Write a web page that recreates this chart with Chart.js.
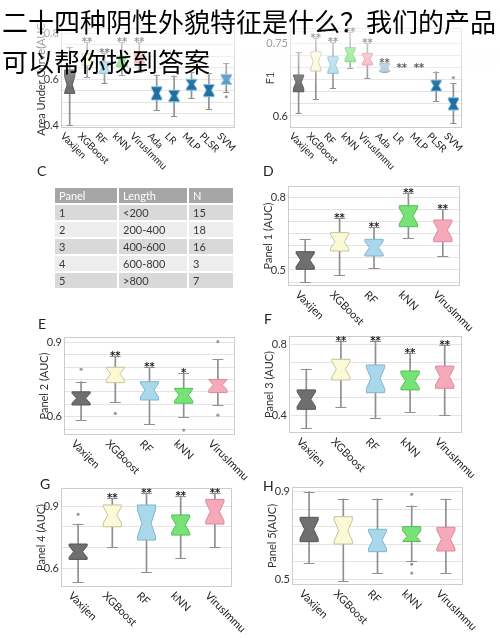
<!DOCTYPE html>
<html><head><meta charset="utf-8">
<script src="https://cdn.jsdelivr.net/npm/chart.js@4.4.1/dist/chart.umd.min.js"></script>
<style>
html,body{margin:0;padding:0;background:#fff;}
#page{position:relative;width:500px;height:638px;overflow:hidden;background:#fff;font-family:Lato,'Liberation Sans',sans-serif;}
#page canvas{position:absolute;}
.lt{position:absolute;font-size:14px;line-height:14px;color:#222;font-family:Lato,sans-serif;}
#tbl{position:absolute;left:53px;top:186px;border-collapse:separate;border-spacing:2px;font:11px Lato,sans-serif;color:#3a3a3a;}
#tbl td{height:15px;padding:0 0 0 4px;line-height:15px;}
#tbl tr.h td{background:#a6a6a6;color:#fff;}
#tbl tr.o td{background:#d9d9d9;}
#tbl tr.e td{background:#ededed;}
#fade{position:absolute;left:0;top:0;width:500px;height:90px;pointer-events:none;
 background:linear-gradient(to bottom,rgba(255,255,255,0.75) 0px,rgba(255,255,255,0.6) 35px,rgba(255,255,255,0.35) 58px,rgba(255,255,255,0) 88px);}
#ttl{position:absolute;left:2px;top:1px;font-family:'Noto Sans CJK SC',sans-serif;font-size:26px;line-height:40px;color:#000;white-space:nowrap;}
</style></head>
<body><div id="page">
<div class="lt" style="left:37px;top:164px">C</div>
<div class="lt" style="left:263px;top:164px">D</div>
<div class="lt" style="left:38px;top:317px">E</div>
<div class="lt" style="left:264px;top:312px">F</div>
<div class="lt" style="left:40px;top:477px">G</div>
<div class="lt" style="left:263px;top:479px">H</div>
<table id="tbl"></table>
<div id="fade"></div>
<div id="ttl">二十四种阴性外貌特征是什么？我们的产品<br>可以帮你找到答案</div>
</div>
<script>
// ---------- categories ----------
const cats10 = ['Vaxijen','XGBoost','RF','kNN','VirusImmu','Ada','LR','MLP','PLSR','SVM'];
const cats5  = ['Vaxijen','XGBoost','RF','kNN','VirusImmu'];

// ---------- Panel A: Area Under Curve (AUC) ----------
const aucLo  = [0.402,0.610,0.582,0.618,0.632,0.465,0.440,0.519,0.469,0.545];
const aucQ1  = [0.538,0.660,0.625,0.655,0.670,0.509,0.501,0.552,0.523,0.577];
const aucMed = [0.575,0.690,0.650,0.680,0.690,0.538,0.527,0.577,0.552,0.596];
const aucQ3  = [0.640,0.710,0.675,0.700,0.712,0.567,0.552,0.600,0.577,0.621];
const aucHi  = [0.740,0.760,0.715,0.760,0.760,0.618,0.615,0.632,0.625,0.669];
const aucStars = ['','**','**','**','**','','','','',''];
const aucOut = [['SVM',0.523]];
const aucTickLabels = [0.4,0.6,0.8];
const aucRange = [0.387,0.823];

// ---------- Panel B: F1 ----------
const f1Lo  = [0.6055,0.635,0.6583,0.6996,0.679,0.691,0.700,0.700,0.6309,0.5848];
const f1Q1  = [0.650,0.6928,0.688,0.712,0.7052,0.6914,0.700,0.700,0.6515,0.6123];
const f1Med = [0.6695,0.712,0.705,0.7273,0.7176,0.6996,0.700,0.700,0.6625,0.6241];
const f1Q3  = [0.6846,0.7327,0.7223,0.741,0.7294,0.7087,0.700,0.700,0.6743,0.6377];
const f1Hi  = [0.7314,0.7616,0.752,0.7727,0.750,0.7087,0.700,0.700,0.6914,0.6674];
const f1Stars = ['','**','**','**','**','**','**','**','',''];
const f1Out = [['SVM',0.679]];
const f1TickLabels = [0.6,0.75];
const f1Range = [0.5752,0.7816];

// ---------- Panel D: Panel 1 (AUC) ----------
const p1Lo  = [0.4515,0.4793,0.5071,0.634,0.5581];
const p1Q1  = [0.5029,0.5788,0.5581,0.6797,0.6174];
const p1Med = [0.5415,0.6175,0.5926,0.7241,0.666];
const p1Q3  = [0.576,0.6548,0.6274,0.7668,0.7075];
const p1Hi  = [0.6274,0.7145,0.6772,0.8207,0.7519];
const p1Stars = ['','**','**','**','**'];
const p1Out = [];
const p1TickLabels = [0.5,0.8];
const p1Range = [0.4336,0.8485];

// ---------- Panel E: Panel 2 (AUC) ----------
const p2Lo  = [0.586,0.660,0.570,0.600,0.647];
const p2Q1  = [0.647,0.737,0.667,0.654,0.697];
const p2Med = [0.674,0.772,0.707,0.687,0.728];
const p2Q3  = [0.700,0.799,0.741,0.714,0.750];
const p2Hi  = [0.741,0.845,0.799,0.775,0.831];
const p2Stars = ['','**','**','*',''];
const p2Out = [['Vaxijen',0.791],['XGBoost',0.613],['kNN',0.546],['VirusImmu',0.902],['VirusImmu',0.606]];
const p2TickLabels = [0.6,0.9];
const p2Range = [0.526,0.921];

// ---------- Panel F: Panel 3 (AUC) ----------
const p3Lo  = [0.327,0.449,0.383,0.421,0.402];
const p3Q1  = [0.434,0.600,0.528,0.544,0.553];
const p3Med = [0.491,0.661,0.610,0.596,0.619];
const p3Q3  = [0.544,0.717,0.685,0.651,0.679];
const p3Hi  = [0.661,0.823,0.823,0.755,0.798];
const p3Stars = ['','**','**','**','**'];
const p3Out = [];
const p3TickLabels = [0.4,0.8];
const p3Range = [0.2997,0.8493];

// ---------- Panel G: Panel 4 (AUC) ----------
const p4Lo  = [0.536,0.704,0.584,0.648,0.704];
const p4Q1  = [0.643,0.800,0.736,0.760,0.813];
const p4Med = [0.680,0.857,0.817,0.809,0.873];
const p4Q3  = [0.717,0.905,0.905,0.857,0.932];
const p4Hi  = [0.813,0.937,0.964,0.948,0.964];
const p4Stars = ['','**','**','**','**'];
const p4Out = [['Vaxijen',0.86]];
const p4TickLabels = [0.6,0.9];
const p4Range = [0.51,0.9867];

// ---------- Panel H: Panel 5 (AUC) ----------
const p5Lo  = [0.5748,0.4923,0.5262,0.583,0.5262];
const p5Q1  = [0.671,0.6604,0.6252,0.672,0.6283];
const p5Med = [0.7278,0.7214,0.6788,0.695,0.6819];
const p5Q3  = [0.7827,0.7855,0.7278,0.740,0.7369];
const p5Hi  = [0.900,0.8666,0.8666,0.835,0.8666];
const p5Stars = ['','','','',''];
const p5Out = [['kNN',0.888],['kNN',0.568],['kNN',0.527]];
const p5TickLabels = [0.5,0.9];
const p5Range = [0.4726,0.9215];

// ---------- Table C ----------
const tblHeader = ['Panel','Length','N'];
const tblPanel  = ['1','2','3','4','5'];
const tblLength = ['<200','200-400','400-600','600-800','>800'];
const tblN      = ['15','18','16','3','7'];

// ---------- styles ----------
const FILL = {Vaxijen:'#6f6f6f', XGBoost:'#fcfad4', RF:'#a9d7eb', kNN:'#77e377', VirusImmu:'#f6a9b8',
  Ada:'#1f6fa0', LR:'#1f6fa0', MLP:'#1f6fa0', PLSR:'#1f6fa0', SVM:'#1f6fa0'};
const EDGE = {Vaxijen:'#565656', XGBoost:'#c4c2a2', RF:'#82b5cd', kNN:'#4fc04f', VirusImmu:'#d88c9b',
  Ada:'#8cc4e4', LR:'#8cc4e4', MLP:'#8cc4e4', PLSR:'#8cc4e4', SVM:'#8cc4e4'};

// table
(function(){
  const t = document.getElementById('tbl');
  const widths = [58,64,40];
  let h = '<tr class="h">' + tblHeader.map((s,i)=>'<td style="width:'+widths[i]+'px">'+s+'</td>').join('') + '</tr>';
  tblPanel.forEach((p,i)=>{
    h += '<tr class="'+(i%2===0?'o':'e')+'"><td>'+p+'</td><td>'+tblLength[i].replace('<','&lt;').replace('>','&gt;')+'</td><td>'+tblN[i]+'</td></tr>';
  });
  t.innerHTML = h;
})();

const boxPlugin = {
  id:'boxplot',
  beforeDatasetsDraw(chart){
    const {ctx, chartArea:a} = chart;
    ctx.save(); ctx.strokeStyle='#cdcdcd'; ctx.lineWidth=1;
    ctx.strokeRect(Math.round(a.left)+0.5, Math.round(a.top)+0.5, Math.round(a.right-a.left)-1, Math.round(a.bottom-a.top)-1);
    ctx.restore();
  },
  afterDatasetsDraw(chart){
    const ctx = chart.ctx, ys = chart.scales.y;
    const bx = chart.data.datasets[1];
    const bMeta = chart.getDatasetMeta(1), wMeta = chart.getDatasetMeta(0);
    ctx.save();
    bMeta.data.forEach((el,i)=>{
      const cx = el.x, hw = el.width/2;
      const w = wMeta.data[i];
      const wt = Math.min(w.y, w.base), wb = Math.max(w.y, w.base);
      ctx.lineWidth = 1;
      if (wb - wt > 0.5) {
        ctx.strokeStyle = '#8f8f8f';
        const chw = hw*0.6;
        ctx.beginPath();
        [wt,wb].forEach(yy=>{ const p = Math.round(yy)+0.5; ctx.moveTo(cx-chw,p); ctx.lineTo(cx+chw,p); });
        ctx.stroke();
      }
      const top = Math.min(el.y, el.base), bot = Math.max(el.y, el.base);
      if (bot - top > 0.5) {
        const m = ys.getPixelForValue(bx.medians[i]);
        const iqr = bot - top;
        const nT = Math.max(top, m - 0.38*iqr), nB = Math.min(bot, m + 0.38*iqr);
        const nw = hw*0.5;
        ctx.beginPath();
        ctx.moveTo(cx-hw, top); ctx.lineTo(cx+hw, top); ctx.lineTo(cx+hw, nT);
        ctx.lineTo(cx+nw, m); ctx.lineTo(cx+hw, nB); ctx.lineTo(cx+hw, bot);
        ctx.lineTo(cx-hw, bot); ctx.lineTo(cx-hw, nB); ctx.lineTo(cx-nw, m);
        ctx.lineTo(cx-hw, nT); ctx.closePath();
        ctx.fillStyle = bx.fills[i]; ctx.fill();
        ctx.strokeStyle = bx.edges[i]; ctx.stroke();
      }
      if (bx.stars[i]) {
        ctx.fillStyle = '#222'; ctx.font = 'bold 10px "DejaVu Sans"';
        ctx.textAlign = 'center'; ctx.textBaseline = 'alphabetic';
        ctx.fillText(bx.stars[i], cx, wt + 3);
      }
    });
    ctx.restore();
  },
  afterDraw(chart, args, opts){
    const ctx = chart.ctx, xs = chart.scales.x, a = chart.chartArea;
    ctx.save();
    ctx.font = opts.labelSize + 'px Lato'; ctx.fillStyle = '#222';
    chart.data.labels.forEach((t,i)=>{
      const px = xs.getPixelForValue(i);
      ctx.save(); ctx.translate(px-4, a.bottom+3); ctx.rotate(Math.PI/4);
      ctx.textAlign='left'; ctx.textBaseline='top'; ctx.fillText(t,0,0); ctx.restore();
    });
    ctx.restore();
  }
};

const PANELS = [
 {cats:cats10, lo:aucLo, q1:aucQ1, med:aucMed, q3:aucQ3, hi:aucHi, stars:aucStars, out:aucOut, labels:aucTickLabels, range:aucRange, step:0.05, title:'Area Under Curve(AUC)', area:{l:61,t:28,r:235,b:128}, fs:10, pct:0.6, key:'A'},
 {cats:cats10, lo:f1Lo, q1:f1Q1, med:f1Med, q3:f1Q3, hi:f1Hi, stars:f1Stars, out:f1Out, labels:f1TickLabels, range:f1Range, step:0.025, title:'F1', area:{l:290,t:28,r:462,b:128}, fs:10, pct:0.6, key:'B'},
 {cats:cats5, lo:p1Lo, q1:p1Q1, med:p1Med, q3:p1Q3, hi:p1Hi, stars:p1Stars, out:p1Out, labels:p1TickLabels, range:p1Range, step:0.05, title:'Panel 1 (AUC)', area:{l:288,t:186,r:460,b:286}, fs:11, pct:0.53, key:'D'},
 {cats:cats5, lo:p2Lo, q1:p2Q1, med:p2Med, q3:p2Q3, hi:p2Hi, stars:p2Stars, out:p2Out, labels:p2TickLabels, range:p2Range, step:0.05, title:'Panel 2 (AUC)', area:{l:64,t:337,r:235,b:435}, fs:11, pct:0.53, key:'E'},
 {cats:cats5, lo:p3Lo, q1:p3Q1, med:p3Med, q3:p3Q3, hi:p3Hi, stars:p3Stars, out:p3Out, labels:p3TickLabels, range:p3Range, step:0.1, title:'Panel 3 (AUC)', area:{l:289,t:336,r:462,b:433}, fs:11, pct:0.53, key:'F'},
 {cats:cats5, lo:p4Lo, q1:p4Q1, med:p4Med, q3:p4Q3, hi:p4Hi, stars:p4Stars, out:p4Out, labels:p4TickLabels, range:p4Range, step:0.1, title:'Panel 4 (AUC)', area:{l:61,t:488,r:232,b:587}, fs:11, pct:0.53, key:'G'},
 {cats:cats5, lo:p5Lo, q1:p5Q1, med:p5Med, q3:p5Q3, hi:p5Hi, stars:p5Stars, out:p5Out, labels:p5TickLabels, range:p5Range, step:0.08, title:'Panel 5(AUC)', area:{l:292,t:487,r:463,b:585}, fs:11, pct:0.53, key:'H'}
];

const page = document.getElementById('page');
const PADL=8, YW=26, PADT=14, PADR=50, PADB=70;

PANELS.forEach(p=>{
  const a = p.area;
  const cv = document.createElement('canvas');
  const W = (a.r-a.l)+PADL+YW+PADR, H = (a.b-a.t)+PADT+PADB;
  cv.width = W; cv.height = H;
  cv.style.left = (a.l-PADL-YW)+'px'; cv.style.top = (a.t-PADT)+'px';
  cv.style.width = W+'px'; cv.style.height = H+'px';
  page.insertBefore(cv, page.firstChild);

  const fills = p.cats.map(c=>{
    if (p.key==='B' && (c==='Ada'||c==='LR'||c==='MLP')) return '#a9c5dc';
    if (p.key==='A' && c==='SVM') return '#4f97c6';
    return FILL[c];
  });
  const edges = p.cats.map(c=>{
    if (p.key==='B' && (c==='Ada'||c==='LR'||c==='MLP')) return '#8fb1cb';
    return EDGE[c];
  });
  const anchor = p.labels[0];
  const gridVals = [];
  for (let k=-60;k<=60;k++){ const v = +(anchor + k*p.step).toFixed(4); if (v>=p.range[0]-1e-9 && v<=p.range[1]+1e-9) gridVals.push(v); }

  new Chart(cv, {
    type:'bar',
    data:{
      labels:p.cats,
      datasets:[
        {type:'bar', label:'whisker', data:p.lo.map((v,i)=>[v,p.hi[i]]), backgroundColor:'#8f8f8f', borderWidth:0, barThickness:1, grouped:false, order:3},
        {type:'bar', label:'box', data:p.q1.map((v,i)=>[v,p.q3[i]]), backgroundColor:'rgba(0,0,0,0)', borderWidth:0,
          barPercentage:p.pct, categoryPercentage:1, grouped:false, order:2,
          medians:p.med, stars:p.stars, fills:fills, edges:edges},
        {type:'line', label:'outliers', data:p.out.map(o=>({x:o[0], y:o[1]})), showLine:false,
          pointRadius:1.6, pointBackgroundColor:'#9a9a9a', pointBorderWidth:0, order:1}
      ]
    },
    options:{
      responsive:false, animation:false, devicePixelRatio:1,
      layout:{padding:{left:PADL, top:PADT, right:PADR, bottom:PADB}},
      plugins:{legend:{display:false}, tooltip:{enabled:false}, boxplot:{labelSize:p.fs}},
      scales:{
        x:{type:'category', display:false, offset:true},
        y:{min:p.range[0], max:p.range[1],
           afterBuildTicks:(s)=>{ s.ticks = gridVals.map(v=>({value:v})); },
           afterFit:(s)=>{ s.width = YW; },
           ticks:{autoSkip:false, padding:2, color:'#333', font:{family:'Lato', size:11},
             callback:(v)=> p.labels.some(l=>Math.abs(l-v)<1e-6) ? String(+(+v).toFixed(3)) : ''},
           grid:{color:'#e4e4e4', drawTicks:false},
           border:{display:false},
           title:{display:true, text:p.title, color:'#333', font:{family:'Lato', size:11}, padding:0}
        }
      }
    },
    plugins:[boxPlugin]
  });
});
</script>
</body></html>
